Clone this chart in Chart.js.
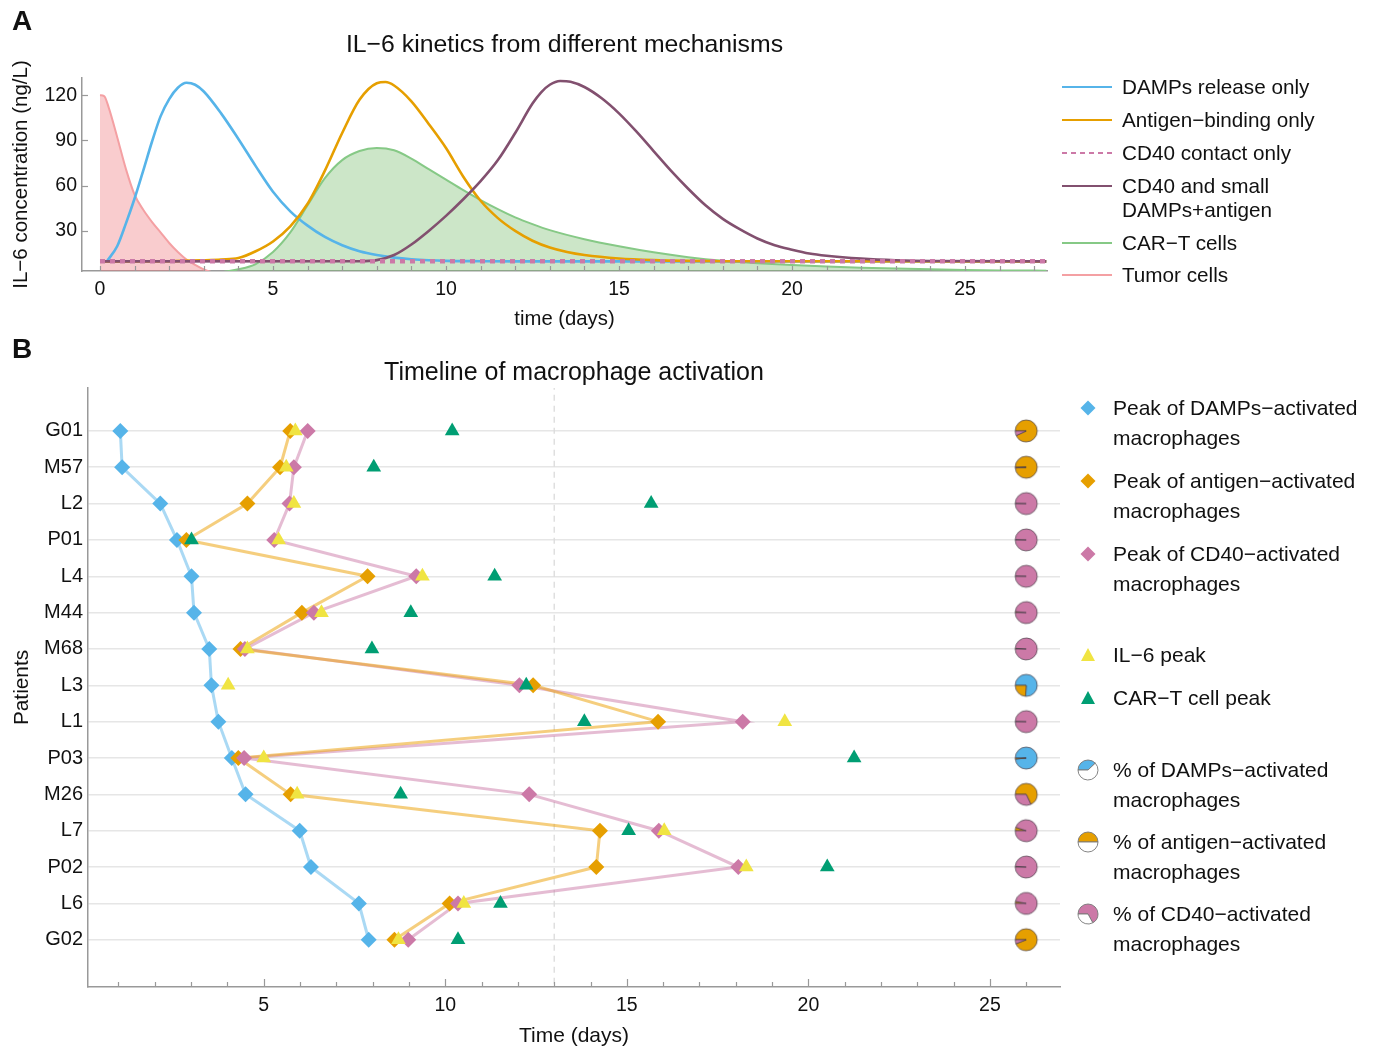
<!DOCTYPE html>
<html>
<head>
<meta charset="utf-8">
<title>IL-6 kinetics and macrophage timeline</title>
<script src="https://cdn.jsdelivr.net/npm/chart.js@4.4.1/dist/chart.umd.min.js"></script>
<style>
  body { margin: 0; background: #fff; }
  #page { position: relative; width: 1377px; height: 1049px; overflow: hidden;
          font-family: "Liberation Sans", Arial, sans-serif; color: #111; }
  #page > canvas { position: absolute; left: 0; }
  .tag { position: absolute; font-weight: bold; font-size: 28px; line-height: 28px; }
  .legtext { position: absolute; white-space: nowrap; }
  .legicon { position: absolute; }
</style>
</head>
<body>
<div id="page">
  <canvas id="chartA" width="1377" height="340" style="top:0"></canvas>
  <canvas id="chartB" width="1377" height="714" style="top:335px"></canvas>
  <div class="tag" style="left:12px;top:7px">A</div>
  <div class="tag" style="left:12px;top:335px">B</div>
</div>
<script>
// ---------- panel A: IL-6 curves ----------
const tumorDays = [0, 0.12, 0.25, 0.5, 0.75, 1, 1.25, 1.5, 1.75, 2, 2.25, 2.5, 2.75, 3, 3.25, 3.5];
const tumorVals = [120, 119.5, 112, 92, 71, 54, 44, 36, 29, 22, 16, 11, 7.5, 4.5, 2.5, 1];

const dampsDays = [0.2, 0.5, 0.75, 1, 1.25, 1.5, 1.75, 2, 2.25, 2.5, 2.75, 3, 3.5, 4, 4.5, 5, 5.5, 6, 6.5, 7, 7.5, 8, 8.5, 9, 9.5, 10, 11, 12, 27.35];
const dampsVals = [9.8, 20, 35, 51.5, 70, 89, 106, 117.5, 125, 128.3, 127, 122.5, 108, 91, 73, 56, 43, 33.5, 26, 20.5, 16.5, 14, 12.3, 11.2, 10.5, 10.1, 9.9, 9.8, 9.8];

const antigenDays = [0, 2, 3, 3.5, 4, 4.5, 5, 5.5, 6, 6.5, 7, 7.5, 8, 8.25, 8.5, 9, 9.5, 10, 10.5, 11, 11.5, 12, 12.5, 13, 13.5, 14, 15, 16, 17, 18, 27.35];
const antigenVals = [9.8, 9.9, 10.5, 11, 12, 16.5, 23, 33, 48, 70, 95, 117, 128, 128.8, 126.5, 116, 101, 85, 66, 50, 38.5, 30, 23.5, 19, 16, 14, 11.7, 10.6, 10.1, 9.9, 9.8];

const cd40Days = [0, 27.35];
const cd40Vals = [9.8, 9.8];

const comboDays = [0, 7.5, 8, 8.5, 9, 9.5, 10, 10.5, 11, 11.5, 12, 12.5, 12.75, 13, 13.3, 13.6, 14, 14.5, 15, 15.5, 16, 16.5, 17, 17.5, 18, 18.5, 19, 19.5, 20, 20.5, 21, 22, 23, 24, 27.35];
const comboVals = [9.8, 9.9, 10.6, 14, 21, 30, 40, 51, 63, 77, 95, 114.5, 122, 127, 129.5, 129, 125.5, 118, 108, 96, 83, 70, 58, 47, 38, 31, 25, 20.5, 17.5, 15, 13.5, 11.6, 10.5, 10, 9.8];

const cartDays = [3.6, 4, 4.5, 5, 5.5, 6, 6.5, 7, 7.5, 8, 8.5, 9, 9.5, 10, 10.5, 11, 11.5, 12, 12.5, 13, 14, 15, 16, 17, 18, 19, 20, 21, 22, 23, 24, 25, 26, 27.35];
const cartVals = [3, 4.5, 8, 16, 29, 47, 65, 77, 83, 85, 83.5, 78, 71, 64, 57, 50.5, 44.5, 39, 34.5, 30.5, 24.5, 19.8, 15.8, 12.6, 10.2, 8.6, 7.4, 6.4, 5.6, 5, 4.5, 4.1, 3.8, 3.6];

const timeTicksA = [0, 5, 10, 15, 20, 25];
const concTicks = [30, 60, 90, 120];

// ---------- panel B: peak days per patient ----------
const patients = ['G01', 'M57', 'L2', 'P01', 'L4', 'M44', 'M68', 'L3', 'L1', 'P03', 'M26', 'L7', 'P02', 'L6', 'G02'];
const dampsPeak   = [1.05, 1.10, 2.15, 2.61, 3.01, 3.08, 3.50, 3.56, 3.75, 4.12, 4.50, 5.99, 6.30, 7.62, 7.89];
const antigenPeak = [5.73, 5.45, 4.55, 2.87, 7.86, 6.05, 4.36, 12.42, 15.86, 4.30, 5.74, 14.26, 14.16, 10.12, 8.60];
const cd40Peak    = [6.21, 5.83, 5.71, 5.29, 9.20, 6.38, 4.48, 12.04, 18.19, 4.46, 12.31, 15.88, 18.07, 10.35, 8.98];
const il6Peak     = [5.87, 5.62, 5.83, 5.41, 9.37, 6.59, 4.55, 4.02, 19.35, 5.00, 5.92, 16.03, 18.29, 10.51, 8.71];
const cartPeak    = [10.19, 8.03, 15.67, 3.01, 11.36, 9.05, 7.98, 12.23, 13.83, 21.26, 8.77, 15.05, 20.52, 11.52, 10.35];
const pctDamps    = [0, 0, 0, 0, 0, 0, 0, 76, 0, 98.5, 0, 0, 0, 0, 0];
const pctAntigen  = [93, 99, 0.5, 0.5, 0.5, 1.5, 1, 24, 0.5, 1.5, 68, 5, 1, 3, 94];
const pctCd40     = [7, 1, 99.5, 99.5, 99.5, 98.5, 99, 0, 99.5, 0, 32, 95, 99, 97, 6];
const pieDay = 26;
const cutoffDay = 13;
const timeTicksB = [5, 10, 15, 20, 25];

const BLUE = '#56B4E9', ORANGE = '#E69F00', PINK = '#CC79A7', PURPLE = '#82506F';
const YELLOW = '#F0E442', GREEN = '#009E73', CART = '#86C986', TUMOR = '#F4A0A3';
const FONT = '"Liberation Sans", Arial, sans-serif';

Chart.defaults.font.family = FONT;
Chart.defaults.color = '#111';

const xy = (xs, ys) => xs.map((x, i) => ({ x, y: ys[i] }));
const rows = (xs) => xs.map((x, i) => ({ x, y: i }));

// tick marks that point into the plot, like the original
const innerTicks = {
  id: 'innerTicks',
  afterDraw(chart, args, opts) {
    const { ctx, chartArea } = chart;
    const xs = chart.scales.x, ys = chart.scales.y;
    ctx.save();
    ctx.strokeStyle = '#999';
    ctx.lineWidth = 1.2;
    for (let v = Math.ceil(xs.min); v <= Math.floor(xs.max); v++) {
      const px = Math.round(xs.getPixelForValue(v)) + 0.5;
      const len = v % 5 === 0 ? opts.major : opts.minor;
      ctx.beginPath();
      ctx.moveTo(px, chartArea.bottom);
      ctx.lineTo(px, chartArea.bottom - len);
      ctx.stroke();
    }
    if (opts.yTicks) {
      for (const v of opts.yTicks) {
        const py = Math.round(ys.getPixelForValue(v)) + 0.5;
        ctx.beginPath();
        ctx.moveTo(chartArea.left, py);
        ctx.lineTo(chartArea.left + 6, py);
        ctx.stroke();
      }
    }
    ctx.restore();
  }
};

function drawPie(ctx, cx, cy, r, fracs, colors, edge) {
  let a = Math.PI;
  fracs.forEach((f, k) => {
    if (f <= 0) return;
    const b = a + f * 2 * Math.PI;
    ctx.beginPath();
    ctx.moveTo(cx, cy);
    ctx.arc(cx, cy, r, a, b);
    ctx.closePath();
    ctx.fillStyle = colors[k];
    ctx.fill();
    ctx.strokeStyle = edge;
    ctx.lineWidth = 1;
    ctx.stroke();
    a = b;
  });
}

function pieImage(i) {
  const c = document.createElement('canvas');
  c.width = 26; c.height = 26;
  const total = pctDamps[i] + pctAntigen[i] + pctCd40[i];
  drawPie(c.getContext('2d'), 13, 13, 11,
    [pctDamps[i] / total, pctAntigen[i] / total, pctCd40[i] / total],
    [BLUE, ORANGE, PINK], 'rgba(70,60,70,0.7)');
  return c;
}

// ---------- chart A ----------
new Chart(document.getElementById('chartA'), {
  type: 'line',
  data: {
    datasets: [
      { label: 'Tumor cells', data: xy(tumorDays, tumorVals), borderColor: TUMOR, borderWidth: 2,
        backgroundColor: 'rgba(240,120,125,0.38)', fill: 'start', order: 6 },
      { label: 'CAR\u2212T cells', data: xy(cartDays, cartVals), borderColor: CART, borderWidth: 2,
        backgroundColor: 'rgba(120,190,110,0.38)', fill: 'start', order: 5 },
      { label: 'DAMPs release only', data: xy(dampsDays, dampsVals), borderColor: BLUE, borderWidth: 2.6, order: 4 },
      { label: 'Antigen\u2212binding only', data: xy(antigenDays, antigenVals), borderColor: ORANGE, borderWidth: 2.6, order: 3 },
      { label: 'CD40 and small DAMPs+antigen', data: xy(comboDays, comboVals), borderColor: PURPLE, borderWidth: 2.6, order: 2 },
      { label: 'CD40 contact only', data: xy(cd40Days, cd40Vals), borderColor: PINK, borderWidth: 4.5,
        borderDash: [5, 5], borderCapStyle: 'butt', order: 1 }
    ]
  },
  options: {
    responsive: false,
    animation: false,
    events: [],
    elements: { point: { radius: 0 }, line: { cubicInterpolationMode: 'monotone' } },
    layout: { padding: { left: 0, right: 330, top: 0, bottom: 0 } },
    plugins: {
      legend: { display: false },
      tooltip: { enabled: false },
      title: { display: true, fullSize: false, text: 'IL\u22126 kinetics from different mechanisms',
               font: { size: 24.8, weight: 'normal' }, color: '#111', padding: { top: 30.5, bottom: 17.7 } },
      innerTicks: { minor: 5, major: 5, yTicks: concTicks }
    },
    scales: {
      x: {
        type: 'linear', min: -0.52, max: 27.37,
        afterBuildTicks: (s) => { s.ticks = timeTicksA.map(v => ({ value: v })); },
        afterFit: (s) => { s.height = 69; },
        grid: { display: false, drawTicks: false },
        border: { display: true, color: '#999', width: 1.5 },
        ticks: { font: { size: 19.5 }, color: '#111', padding: 7, maxRotation: 0 },
        title: { display: true, text: 'time (days)', font: { size: 20.3 }, color: '#111', padding: { top: 0, bottom: 8 } }
      },
      y: {
        min: 3.4, max: 131.5,
        afterBuildTicks: (s) => { s.ticks = concTicks.map(v => ({ value: v })); },
        afterFit: (s) => { s.width = 82; },
        grid: { display: false, drawTicks: false },
        border: { display: true, color: '#999', width: 1.5 },
        ticks: { font: { size: 19.5 }, color: '#111', padding: 5 },
        title: { display: true, text: 'IL\u22126 concentration (ng/L)', font: { size: 20.5 }, color: '#111', padding: { top: 9.5, bottom: 0 } }
      }
    }
  },
  plugins: [innerTicks]
});

// ---------- chart B ----------
new Chart(document.getElementById('chartB'), {
  type: 'scatter',
  data: {
    datasets: [
      { data: [{ x: cutoffDay, y: -1.3 }, { x: cutoffDay, y: 15.4 }], showLine: true, borderColor: '#dadada',
        borderWidth: 1.3, borderDash: [6, 5], pointRadius: 0, order: 20 },
      { data: rows(dampsPeak), showLine: true, borderColor: 'rgba(86,180,233,0.5)', borderWidth: 3, pointRadius: 0, order: 12 },
      { data: rows(cd40Peak), showLine: true, borderColor: 'rgba(204,121,167,0.5)', borderWidth: 3, pointRadius: 0, order: 11 },
      { data: rows(antigenPeak), showLine: true, borderColor: 'rgba(236,165,20,0.55)', borderWidth: 3, pointRadius: 0, order: 10 },
      { label: 'Peak of DAMPs\u2212activated macrophages', data: rows(dampsPeak), pointStyle: 'rectRot', pointRadius: 8,
        backgroundColor: BLUE, borderWidth: 0, order: 5 },
      { label: 'Peak of antigen\u2212activated macrophages', data: rows(antigenPeak), pointStyle: 'rectRot', pointRadius: 8,
        backgroundColor: ORANGE, borderWidth: 0, order: 4 },
      { label: 'Peak of CD40\u2212activated macrophages', data: rows(cd40Peak), pointStyle: 'rectRot', pointRadius: 8,
        backgroundColor: PINK, borderWidth: 0, order: 3 },
      { label: 'IL\u22126 peak', data: rows(il6Peak), pointStyle: 'triangle', pointRadius: 8.5,
        backgroundColor: YELLOW, borderWidth: 0, order: 2 },
      { label: 'CAR\u2212T cell peak', data: rows(cartPeak), pointStyle: 'triangle', pointRadius: 8.5,
        backgroundColor: GREEN, borderWidth: 0, order: 1 },
      { label: 'activation shares', data: rows(patients.map(() => pieDay)), pointStyle: patients.map((p, i) => pieImage(i)),
        pointRadius: 12, order: 0 }
    ]
  },
  options: {
    responsive: false,
    animation: false,
    events: [],
    layout: { padding: { left: 0, right: 317, top: 0, bottom: 0 } },
    plugins: {
      legend: { display: false },
      tooltip: { enabled: false },
      title: { display: true, fullSize: false, text: 'Timeline of macrophage activation',
               font: { size: 25, weight: 'normal' }, color: '#111', padding: { top: 23, bottom: 0 } },
      innerTicks: { minor: 5, major: 8 }
    },
    scales: {
      x: {
        type: 'linear', min: 0.16, max: 26.93,
        afterBuildTicks: (s) => { s.ticks = timeTicksB.map(v => ({ value: v })); },
        afterFit: (s) => { s.height = 62; },
        grid: { display: false, drawTicks: false },
        border: { display: true, color: '#999', width: 1.5 },
        ticks: { font: { size: 19.5 }, color: '#111', padding: 7, maxRotation: 0 },
        title: { display: true, text: 'Time (days)', font: { size: 21 }, color: '#111', padding: { top: 0, bottom: 0 } }
      },
      y: {
        type: 'linear', reverse: true, min: -1.18, max: 15.3,
        afterBuildTicks: (s) => { s.ticks = patients.map((p, i) => ({ value: i })); },
        afterFit: (s) => { s.width = 88; },
        grid: { display: true, drawTicks: false, color: '#e6e6e6', lineWidth: 1.5 },
        border: { display: true, color: '#999', width: 1.5 },
        ticks: { font: { size: 20 }, color: '#111', padding: 5, callback: (v) => patients[v] },
        title: { display: true, text: 'Patients', font: { size: 20.8 }, color: '#111', padding: { top: 9.5, bottom: 0 } }
      }
    }
  },
  plugins: [innerTicks]
});

// ---------- legends ----------
const page = document.getElementById('page');

function addIcon(w, h, cx, cy, draw) {
  const c = document.createElement('canvas');
  c.width = w; c.height = h;
  c.className = 'legicon';
  c.style.left = (cx - w / 2) + 'px';
  c.style.top = (cy - h / 2) + 'px';
  draw(c.getContext('2d'), w, h);
  page.appendChild(c);
}

function addText(left, top, lines, size, lh) {
  const d = document.createElement('div');
  d.className = 'legtext';
  d.style.left = left + 'px';
  d.style.top = top + 'px';
  d.style.fontSize = size + 'px';
  d.style.lineHeight = lh + 'px';
  d.innerHTML = lines.join('<br>');
  page.appendChild(d);
}

const legendA = [
  { lines: ['DAMPs release only'], color: BLUE, y: 87 },
  { lines: ['Antigen\u2212binding only'], color: ORANGE, y: 120 },
  { lines: ['CD40 contact only'], color: PINK, y: 153, dash: true },
  { lines: ['CD40 and small', 'DAMPs+antigen'], color: PURPLE, y: 186 },
  { lines: ['CAR\u2212T cells'], color: CART, y: 243 },
  { lines: ['Tumor cells'], color: TUMOR, y: 275 }
];
legendA.forEach(it => {
  addIcon(52, 6, 1087, it.y, (ctx, w, h) => {
    ctx.strokeStyle = it.color;
    ctx.lineWidth = 2;
    if (it.dash) ctx.setLineDash([5, 4]);
    ctx.beginPath(); ctx.moveTo(1, 3); ctx.lineTo(51, 3); ctx.stroke();
  });
  addText(1122, it.y - 12, it.lines, 20.7, 24);
});

function diamond(color) {
  return (ctx) => {
    ctx.fillStyle = color;
    ctx.beginPath(); ctx.moveTo(9, 1.5); ctx.lineTo(16.5, 9); ctx.lineTo(9, 16.5); ctx.lineTo(1.5, 9); ctx.closePath(); ctx.fill();
  };
}
function triangle(color) {
  return (ctx) => {
    ctx.fillStyle = color;
    ctx.beginPath(); ctx.moveTo(9, 2); ctx.lineTo(16, 15); ctx.lineTo(2, 15); ctx.closePath(); ctx.fill();
  };
}
function legendPie(frac, color) {
  return (ctx) => drawPie(ctx, 12, 12, 10, [frac, 1 - frac], [color, '#fff'], 'rgba(120,120,120,0.9)');
}

const legendB = [
  { lines: ['Peak of DAMPs\u2212activated', 'macrophages'], y: 408, icon: diamond(BLUE) },
  { lines: ['Peak of antigen\u2212activated', 'macrophages'], y: 481, icon: diamond(ORANGE) },
  { lines: ['Peak of CD40\u2212activated', 'macrophages'], y: 554, icon: diamond(PINK) },
  { lines: ['IL\u22126 peak'], y: 655, icon: triangle(YELLOW) },
  { lines: ['CAR\u2212T cell peak'], y: 698, icon: triangle(GREEN) },
  { lines: ['% of DAMPs\u2212activated', 'macrophages'], y: 770, pie: legendPie(0.38, BLUE) },
  { lines: ['% of antigen\u2212activated', 'macrophages'], y: 842, pie: legendPie(0.5, ORANGE) },
  { lines: ['% of CD40\u2212activated', 'macrophages'], y: 914, pie: legendPie(0.67, PINK) }
];
legendB.forEach(it => {
  if (it.pie) addIcon(24, 24, 1088, it.y, it.pie);
  else addIcon(18, 18, 1088, it.y, it.icon);
  addText(1113, it.y - 15, it.lines, 21, 30);
});
</script>
</body>
</html>
